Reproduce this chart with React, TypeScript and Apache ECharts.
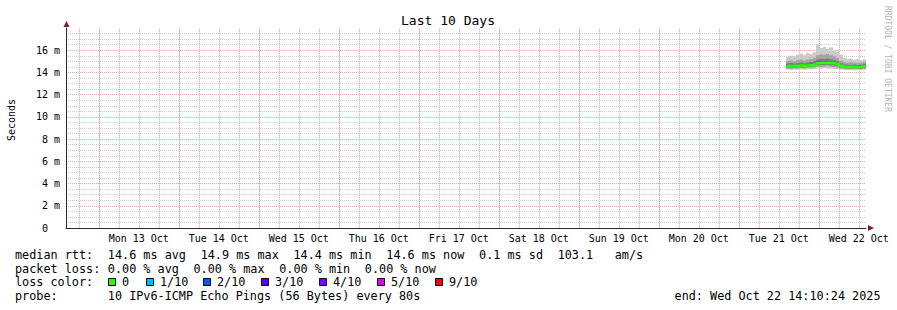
import React, { useEffect, useRef } from "react";
import * as echarts from "echarts";

// ---------- data ----------
// x values: hours since Sun 12 Oct 2025 00:00
const viewStartHour = 14.1733; // Sun 12 Oct 14:10:24
const viewEndHour = 254.1733; // Wed 22 Oct 14:10:24
const stepHours = 1;

const dayLabels = ["Mon 13 Oct", "Tue 14 Oct", "Wed 15 Oct", "Thu 16 Oct", "Fri 17 Oct", "Sat 18 Oct", "Sun 19 Oct", "Mon 20 Oct", "Tue 21 Oct", "Wed 22 Oct"];
const dayLabelHours = [36, 60, 84, 108, 132, 156, 180, 204, 228, 252];
const midnightHours = [24, 48, 72, 96, 120, 144, 168, 192, 216, 240];
const sixHourHours = [18, 30, 36, 42, 54, 60, 66, 78, 84, 90, 102, 108, 114, 126, 132, 138, 150, 156, 162, 174, 180, 186, 198, 204, 210, 222, 228, 234, 246, 252];

const yMin = 0;
const yMax = 18;
const yLabelValues = [0, 2, 4, 6, 8, 10, 12, 14, 16];
const yMajorGridValues = [2, 4, 6, 8, 10, 12, 14, 16];
const yMinorGridValues = [0.5, 1, 1.5, 2.5, 3, 3.5, 4.5, 5, 5.5, 6.5, 7, 7.5, 8.5, 9, 9.5, 10.5, 11, 11.5, 12.5, 13, 13.5, 14.5, 15, 15.5, 16.5, 17, 17.5];

// sample times (hours since 12 Oct 00:00), start of each step
const sampleHours = [230.17, 231.17, 232.17, 233.17, 234.17, 235.17, 236.17, 237.17, 238.17, 239.17, 240.17, 241.17, 242.17, 243.17, 244.17, 245.17, 246.17, 247.17, 248.17, 249.17, 250.17, 251.17, 252.17, 253.17];

// median rtt (ms)
const medianRtt = [14.59, 14.60, 14.58, 14.60, 14.62, 14.60, 14.63, 14.68, 14.72, 14.83, 14.86, 14.85, 14.88, 14.84, 14.80, 14.74, 14.60, 14.52, 14.50, 14.48, 14.50, 14.47, 14.50, 14.56];

// sorted ping rtts (ms), ping1 = fastest ... ping10 = slowest
const ping1 = [14.24, 14.22, 14.25, 14.23, 14.26, 14.24, 14.27, 14.28, 14.30, 14.36, 14.33, 14.38, 14.35, 14.34, 14.31, 14.29, 14.25, 14.22, 14.20, 14.21, 14.19, 14.22, 14.20, 14.23];
const ping2 = [14.36, 14.34, 14.37, 14.35, 14.38, 14.37, 14.40, 14.42, 14.45, 14.52, 14.50, 14.53, 14.55, 14.50, 14.48, 14.44, 14.36, 14.32, 14.30, 14.31, 14.30, 14.31, 14.30, 14.34];
const ping3 = [14.44, 14.45, 14.43, 14.46, 14.47, 14.45, 14.49, 14.53, 14.57, 14.66, 14.68, 14.67, 14.70, 14.66, 14.63, 14.58, 14.46, 14.39, 14.37, 14.36, 14.38, 14.35, 14.37, 14.42];
const ping4 = [14.51, 14.52, 14.50, 14.53, 14.55, 14.52, 14.56, 14.61, 14.65, 14.75, 14.78, 14.77, 14.80, 14.76, 14.72, 14.66, 14.53, 14.45, 14.43, 14.42, 14.44, 14.41, 14.43, 14.49];
const ping5 = [14.56, 14.57, 14.55, 14.57, 14.59, 14.57, 14.60, 14.65, 14.69, 14.80, 14.83, 14.82, 14.85, 14.81, 14.77, 14.71, 14.57, 14.49, 14.47, 14.45, 14.47, 14.44, 14.47, 14.53];
const ping6 = [14.62, 14.63, 14.61, 14.63, 14.65, 14.63, 14.66, 14.71, 14.75, 14.86, 14.89, 14.88, 14.91, 14.87, 14.83, 14.77, 14.63, 14.55, 14.53, 14.51, 14.53, 14.50, 14.53, 14.59];
const ping7 = [14.70, 14.71, 14.69, 14.72, 14.74, 14.71, 14.75, 14.80, 14.85, 14.97, 15.00, 14.99, 15.02, 14.98, 14.93, 14.86, 14.71, 14.62, 14.60, 14.58, 14.60, 14.57, 14.60, 14.66];
const ping8 = [14.82, 14.84, 14.80, 14.85, 14.88, 14.84, 14.89, 14.95, 15.02, 15.18, 15.22, 15.20, 15.25, 15.18, 15.12, 15.02, 14.84, 14.73, 14.70, 14.69, 14.71, 14.67, 14.70, 14.77];
const ping9 = [15.02, 15.06, 15.00, 15.10, 15.15, 15.08, 15.16, 15.22, 15.32, 15.55, 15.62, 15.58, 15.66, 15.55, 15.45, 15.30, 15.05, 14.92, 14.88, 14.90, 14.89, 14.86, 14.88, 14.95];
const ping10 = [15.40, 15.50, 15.45, 15.60, 15.70, 15.55, 15.75, 15.65, 15.80, 16.50, 16.20, 16.30, 16.10, 16.25, 16.00, 15.85, 15.60, 15.30, 15.20, 15.25, 15.15, 15.20, 15.10, 15.20];

// legend texts
const rttStats = ["14.6 ms avg", "14.9 ms max", "14.4 ms min", "14.6 ms now", "0.1 ms sd", "103.1", "am/s"];
const lossStats = ["0.00 % avg", "0.00 % max", "0.00 % min", "0.00 % now"];
const lossLabels = ["0", "1/10", "2/10", "3/10", "4/10", "5/10", "9/10"];
const lossColors = ["#26ff00", "#00b8ff", "#0059ff", "#5e00ff", "#7e00ff", "#dd00ff", "#ff0000"];
const probeText = "10 IPv6-ICMP Echo Pings (56 Bytes) every 80s";
const endText = "end: Wed Oct 22 14:10:24 2025";

// ---------- styles / layout ----------
const mono = '"DejaVu Sans Mono", monospace';
const smokeGreys = ["#cacaca", "#a4a4a4", "#7e7e7e", "#585858", "#323232"];
const minorGrid = "rgba(143,143,143,0.45)";
const majorGrid = "rgba(222,79,79,0.5)";
const minorGridBase = "#ededed";
const majorGridBase = "#f9dcdc";
const axisColor = "#2a2a2a";
const arrowColor = "#801f1f";
const legendFont = 11.8;
const charW = 7.14;
const col = (c: number) => 15 + c * charW;
const rttCols = [13, 26, 39, 52, 65, 76, 84];
const lossCols = [13, 25, 37, 49];
const lossBoxX = [108, 146, 203, 261, 319, 377, 435];
const lineY = [255, 268.6, 282, 295.8];

export default function App() {
  const ref = useRef<HTMLDivElement>(null);
  useEffect(() => {
    if (!ref.current) return;
    const chart = echarts.init(ref.current, undefined, { renderer: "svg" });

    const pings = [ping1, ping2, ping3, ping4, ping5, ping6, ping7, ping8, ping9, ping10];
    const smokeData = sampleHours.map((t, i) => [t, ...pings.map((p) => p[i])]);
    const medianData = sampleHours.map((t, i) => [t, medianRtt[i], medianRtt[Math.min(i + 1, medianRtt.length - 1)]]);

    const legendText = (text: string, x: number, y: number, align = "left") => ({
      type: "text",
      x,
      y,
      silent: true,
      style: { text, fontFamily: mono, fontSize: legendFont, fill: "#000", textAlign: align, textVerticalAlign: "middle" },
    });

    const option: any = {
      animation: false,
      backgroundColor: "#ffffff",
      grid: { left: 66, top: 28, width: 800, height: 200, containLabel: false },
      xAxis: [
        {
          type: "value", min: viewStartHour, max: viewEndHour, z: 1, position: "bottom",
          axisLine: { show: true, onZero: false, lineStyle: { color: axisColor, width: 1 } },
          axisTick: { show: false },
          axisLabel: {
            show: true, customValues: dayLabelHours, margin: 5, color: "#000", fontFamily: mono, fontSize: 10, lineHeight: 10,
            formatter: (v: number) => { const i = dayLabelHours.findIndex((h) => Math.abs(h - v) < 0.01); return i >= 0 ? dayLabels[i] : ""; },
          },
          splitLine: { show: false },
        },
      ],
      yAxis: [
        {
          type: "value", min: yMin, max: yMax, z: 0, position: "left",
          axisLine: { show: false }, axisTick: { show: false, customValues: yMinorGridValues }, axisLabel: { show: false },
          splitLine: { show: true, lineStyle: { color: minorGrid, width: 1, type: [1, 1] } },
        },
        {
          type: "value", min: yMin, max: yMax, z: 1, position: "left",
          axisLine: { show: true, onZero: false, lineStyle: { color: axisColor, width: 1 } },
          axisTick: { show: false, customValues: yMajorGridValues },
          axisLabel: {
            show: true, customValues: yLabelValues, margin: 6, color: "#000", fontFamily: mono, fontSize: 10,
            formatter: (v: number) => (v === 0 ? "0\u00a0\u00a0" : `${v} m`),
          },
          splitLine: { show: true, lineStyle: { color: majorGrid, width: 1, type: [1, 1] } },
        },
      ],
      series: [
        {
          type: "custom", name: "smoke", xAxisIndex: 0, yAxisIndex: 1, z: 2, silent: true,
          encode: { x: 0, y: [1, 2, 3, 4, 5, 6, 7, 8, 9, 10] },
          data: smokeData,
          renderItem: (_p: any, api: any) => {
            const t = api.value(0);
            const xa = Math.round(api.coord([t, 0])[0]);
            const xb = Math.round(api.coord([t + stepHours, 0])[0]);
            const children: any[] = [];
            for (let k = 0; k < 5; k++) {
              const yLo = api.coord([t, api.value(1 + k)])[1];
              const yHi = api.coord([t, api.value(10 - k)])[1];
              children.push({ type: "rect", shape: { x: xa, y: yHi, width: xb - xa, height: yLo - yHi }, style: { fill: smokeGreys[k] } });
            }
            return { type: "group", children };
          },
        },
        {
          type: "custom", name: "median rtt", xAxisIndex: 0, yAxisIndex: 1, z: 3, silent: true,
          encode: { x: 0, y: [1, 2] },
          data: medianData,
          renderItem: (_p: any, api: any) => {
            const t = api.value(0);
            const a = api.coord([t, api.value(1)]);
            const b = api.coord([t + stepHours, api.value(1)]);
            const c = api.coord([t + stepHours, api.value(2)]);
            return {
              type: "polyline",
              shape: { points: [[Math.round(a[0]), a[1]], [Math.round(b[0]), b[1]], [Math.round(c[0]), c[1]]] },
              style: { stroke: lossColors[0], lineWidth: 2.5, fill: "none", lineJoin: "miter" },
            };
          },
        },
      ],
    };
    chart.setOption(option);

    // vertical grid lines placed through the x axis scale
    const xPix = (h: number) => Math.round(Number(chart.convertToPixel({ xAxisIndex: 0 }, h))) + 0.5;
    const yBottom = Number(chart.convertToPixel({ yAxisIndex: 1 }, yMin));
    const yTop = Number(chart.convertToPixel({ yAxisIndex: 1 }, yMax));
    const vBase = (h: number, color: string) => ({
      type: "line", silent: true, z: 0,
      shape: { x1: xPix(h), y1: yBottom, x2: xPix(h), y2: yTop },
      style: { stroke: color, lineWidth: 1 },
    });
    const vDots = (h: number, color: string) => ({
      type: "line", silent: true, z: 0,
      shape: { x1: xPix(h), y1: yBottom, x2: xPix(h) + 0.01, y2: yTop },
      style: { stroke: color, lineWidth: 1, lineDash: [1, 1] },
    });

    const graphic: any[] = [
      ...sixHourHours.map((h) => vBase(h, minorGridBase)),
      ...midnightHours.map((h) => vBase(h, majorGridBase)),
      ...sixHourHours.map((h) => vDots(h, minorGrid)),
      ...midnightHours.map((h) => vDots(h, majorGrid)),
      { type: "text", x: 448, y: 20, silent: true, style: { text: "Last 10 Days", fontFamily: mono, fontSize: 13, fill: "#000", textAlign: "center", textVerticalAlign: "middle" } },
      { type: "text", x: 11, y: 120, rotation: Math.PI / 2, silent: true, style: { text: "Seconds", fontFamily: mono, fontSize: 10, fill: "#000", textAlign: "center", textVerticalAlign: "middle" } },
      { type: "text", x: 887, y: 59, rotation: -Math.PI / 2, silent: true, style: { text: "RRDTOOL / TOBI OETIKER", fontFamily: mono, fontSize: 8, fill: "#b4b4b4", textAlign: "center", textVerticalAlign: "middle" } },
      { type: "polygon", silent: true, shape: { points: [[868, 225], [868, 231], [874, 228]] }, style: { fill: arrowColor } },
      { type: "polygon", silent: true, shape: { points: [[63.5, 27], [69.5, 27], [66.5, 21]] }, style: { fill: arrowColor } },
      legendText("median rtt:", col(0), lineY[0]),
      ...rttStats.map((s, i) => legendText(s, col(rttCols[i]), lineY[0])),
      legendText("packet loss:", col(0), lineY[1]),
      ...lossStats.map((s, i) => legendText(s, col(lossCols[i]), lineY[1])),
      legendText("loss color:", col(0), lineY[2]),
      ...lossLabels.flatMap((s, i) => [
        { type: "rect", silent: true, shape: { x: lossBoxX[i] + 0.5, y: lineY[2] - 3.5, width: 7, height: 7 }, style: { fill: lossColors[i], stroke: "#000", lineWidth: 1 } },
        legendText(s, lossBoxX[i] + 14, lineY[2]),
      ]),
      legendText("probe:", col(0), lineY[3]),
      legendText(probeText, col(13), lineY[3]),
      legendText(endText, 880.5, lineY[3], "right"),
    ];
    chart.setOption({ graphic });
    return () => chart.dispose();
  }, []);
  return <div ref={ref} style={{ position: "absolute", left: 0, top: 0, width: 897, height: 310 }} />;
}
